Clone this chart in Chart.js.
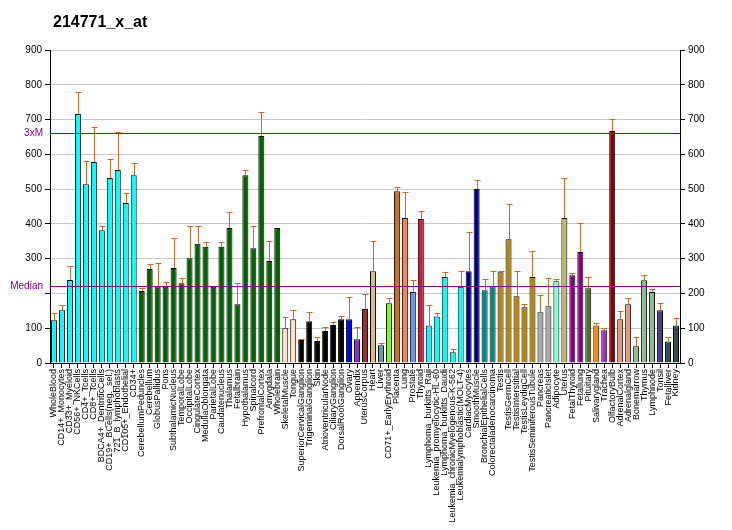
<!DOCTYPE html>
<html>
<head>
<meta charset="utf-8">
<script src="https://cdn.jsdelivr.net/npm/chart.js@4.4.0/dist/chart.umd.min.js"></script>
<style>
  html, body { margin: 0; padding: 0; background: #fff; }
  #wrap { width: 732px; height: 530px; }
</style>
</head>
<body>
<div id="wrap"><canvas id="chart" width="732" height="530"></canvas></div>
<script>
const probeTitle = "214771_x_at";

const tissues = [
  "WholeBlood", "CD14+_Monocytes", "CD33+_Myeloid", "CD56+_NKCells", "CD4+_Tcells",
  "CD8+_Tcells", "BDCA4+_DentriticCells", "CD19+_BCells(neg._sel.)", "721_B_lymphoblasts",
  "CD105+_Endothelial", "CD34+",
  "CerebellumPeduncles", "Cerebellum", "GlobusPallidus", "Pons", "SubthalamicNucleus",
  "TemporalLobe", "OccipitalLobe", "CingulateCortex", "MedullaOblongata", "ParietalLobe",
  "Caudatenucleus", "Thalamus", "Fetalbrain", "Hypothalamus", "Spinalcord",
  "PrefrontalCortex", "Amygdala", "Wholebrain",
  "SkeletalMuscle", "Tongue",
  "SuperiorCervicalGanglion", "TrigeminalGanglion", "Skin", "AtrioventricularNode",
  "CiliaryGanglion", "DorsalRootGanglion",
  "Ovary", "Appendix", "UterusCorpus", "Heart", "Liver", "CD71+_EarlyErythroid",
  "Placenta", "Lung", "Prostate", "Thyroid",
  "Lymphoma_burkitts_Raji", "Leukemia_promyelocytic-HL-60", "Lymphoma_burkitts_Daudi",
  "Leukemia_chronicMyelogenous-K-562", "Leukemialymphoblastic(MOLT-4)",
  "CardiacMyocytes", "SmoothMuscle",
  "BronchialEpithelialCells", "Colorectaladenocarcinoma",
  "Testis", "TestisGermCell", "TestisInterstitial", "TestisLeydigCell", "TestisSeminiferousTubule",
  "Pancreas", "PancreaticIslet", "Adipocyte", "Uterus",
  "FetalThyroid", "Fetallung", "Pituitary", "Salivarygland", "Trachea", "OlfactoryBulb",
  "AdrenalCortex", "Adrenalgland", "Bonemarrow", "Thymus", "Lymphnode", "Tonsil",
  "Fetalliver", "Kidney"
];

const expression = [
  123, 152, 239, 716, 514, 578, 382, 532, 555, 460, 540,
  207, 270, 221, 219, 273, 229, 301, 343, 334, 219, 334, 388, 169, 540, 330, 653, 293, 388,
  100, 126,
  66, 120, 63, 92, 109, 126,
  126, 68, 155, 264, 51, 172, 494, 417, 204, 414,
  108, 134, 247, 31, 219,
  264, 500,
  209, 221,
  261, 356, 192, 160, 247,
  146, 163, 235, 417,
  252, 319, 215, 108, 94, 667,
  126, 169, 48, 238, 204, 152, 62, 108
];

// top of each error whisker (null = no whisker drawn)
const whiskerTop = [
  143, 166, 278, 779, 580, 678, 393, 587, 664, 488, 575,
  215, 284, 287, 232, 359, 244, 393, 393, 348, null, 348, 434, 229, 555, 393, 722, 350, null,
  132, 152,
  69, 146, 74, 103, 117, 134,
  189, 103, 198, 350, 57, 186, 506, 491, 238, 437,
  166, 143, 261, 39, 264,
  376, 526,
  241, 264,
  264, 457, 264, 169, 322,
  195, 244, 241, 532,
  258, 402, 247, 114, 100, 702,
  149, 186, 74, 252, 212, 172, 74, 129
];

const medianValue = 220.5;
const yTicks = [0, 100, 200, 300, 400, 500, 600, 700, 800, 900];

// colour groups: [count, colour]
const colourGroups = [
  [11, "#00ffff"], [18, "#006400"], [2, "#ffe4c4"], [6, "#000000"], [1, "#0000ff"],
  [1, "#8a2be2"], [1, "#a52a2a"], [1, "#deb887"], [1, "#5f9ea0"], [1, "#7fff00"],
  [1, "#d2691e"], [1, "#ff7f50"], [1, "#6495ed"], [1, "#dc143c"], [5, "#00ffff"],
  [2, "#00008b"], [2, "#008b8b"], [5, "#b8860b"], [2, "#a9a9a9"], [1, "#7fffd4"],
  [1, "#bdb76b"], [2, "#8b008b"], [1, "#556b2f"], [1, "#ff8c00"], [1, "#9932cc"],
  [1, "#8b0000"], [2, "#e9967a"], [3, "#8fbc8f"], [1, "#483d8b"], [2, "#2f4f4f"]
];
const barColours = colourGroups.flatMap(([n, c]) => Array(n).fill(c));

const FONT = '"Liberation Sans", Arial, sans-serif';
const PURPLE = "#800080";

const overlay = {
  id: "overlay",
  afterDatasetsDraw(chart) {
    const ctx = chart.ctx;
    const y = chart.scales.y;
    const area = chart.chartArea;
    const meta = chart.getDatasetMeta(0);

    // whiskers
    ctx.save();
    ctx.strokeStyle = "#c8692e";
    ctx.lineWidth = 1;
    meta.data.forEach((bar, i) => {
      if (whiskerTop[i] == null) return;
      const x = Math.round(bar.x) + 0.5;
      const yt = Math.round(y.getPixelForValue(whiskerTop[i])) + 0.5;
      ctx.beginPath();
      ctx.moveTo(x, bar.y);
      ctx.lineTo(x, yt);
      ctx.moveTo(x - 3, yt);
      ctx.lineTo(x + 3, yt);
      ctx.stroke();
    });

    // median and 3xM lines
    ctx.strokeStyle = PURPLE;
    [medianValue, medianValue * 3].forEach(v => {
      const py = Math.round(y.getPixelForValue(v)) + 0.5;
      ctx.beginPath();
      ctx.moveTo(area.left, py);
      ctx.lineTo(area.right, py);
      ctx.stroke();
    });

    ctx.fillStyle = PURPLE;
    ctx.font = "10px " + FONT;
    ctx.textAlign = "right";
    ctx.textBaseline = "middle";
    ctx.fillText("Median", area.left - 7, y.getPixelForValue(medianValue));
    ctx.fillText("3xM", area.left - 7, y.getPixelForValue(medianValue * 3));

    // title
    ctx.fillStyle = "#000";
    ctx.font = "bold 16px " + FONT;
    ctx.textAlign = "left";
    ctx.textBaseline = "alphabetic";
    ctx.fillText(probeTitle, 53, 27);
    ctx.restore();
  }
};

new Chart(document.getElementById("chart"), {
  type: "bar",
  data: {
    labels: tissues,
    datasets: [{
      data: expression,
      backgroundColor: barColours,
      borderColor: "#000",
      borderWidth: 1,
      barPercentage: 0.75,
      categoryPercentage: 1
    }]
  },
  options: {
    responsive: false,
    animation: false,
    layout: { padding: { top: 50, left: 0, right: 0, bottom: 0 } },
    plugins: { legend: { display: false }, tooltip: { enabled: false } },
    scales: {
      x: {
        afterFit: s => { s.height = 167; },
        grid: { offset: false, drawOnChartArea: false, tickLength: 5, color: "#000" },
        border: { color: "#000" },
        ticks: {
          autoSkip: false, minRotation: 90, maxRotation: 90, padding: 1,
          color: "#000", font: { family: FONT, size: 9 }
        }
      },
      y: {
        position: "left",
        min: 0, max: 900,
        afterFit: s => { s.width = 50; },
        afterBuildTicks: s => { s.ticks = yTicks.map(v => ({ value: v })); },
        grid: { color: "#c8c8c8", tickColor: "#000", tickLength: 5 },
        border: { color: "#000" },
        ticks: {
          color: "#000", font: { family: FONT, size: 10 }, padding: 3,
          callback: v => (v === 200 ? "" : v)
        }
      },
      y2: {
        position: "right",
        min: 0, max: 900,
        afterFit: s => { s.width = 52; },
        afterBuildTicks: s => { s.ticks = yTicks.map(v => ({ value: v })); },
        grid: { drawOnChartArea: false, tickColor: "#000", tickLength: 5 },
        border: { color: "#000" },
        ticks: { color: "#000", font: { family: FONT, size: 10 }, padding: 3 }
      }
    }
  },
  plugins: [overlay]
});
</script>
</body>
</html>
